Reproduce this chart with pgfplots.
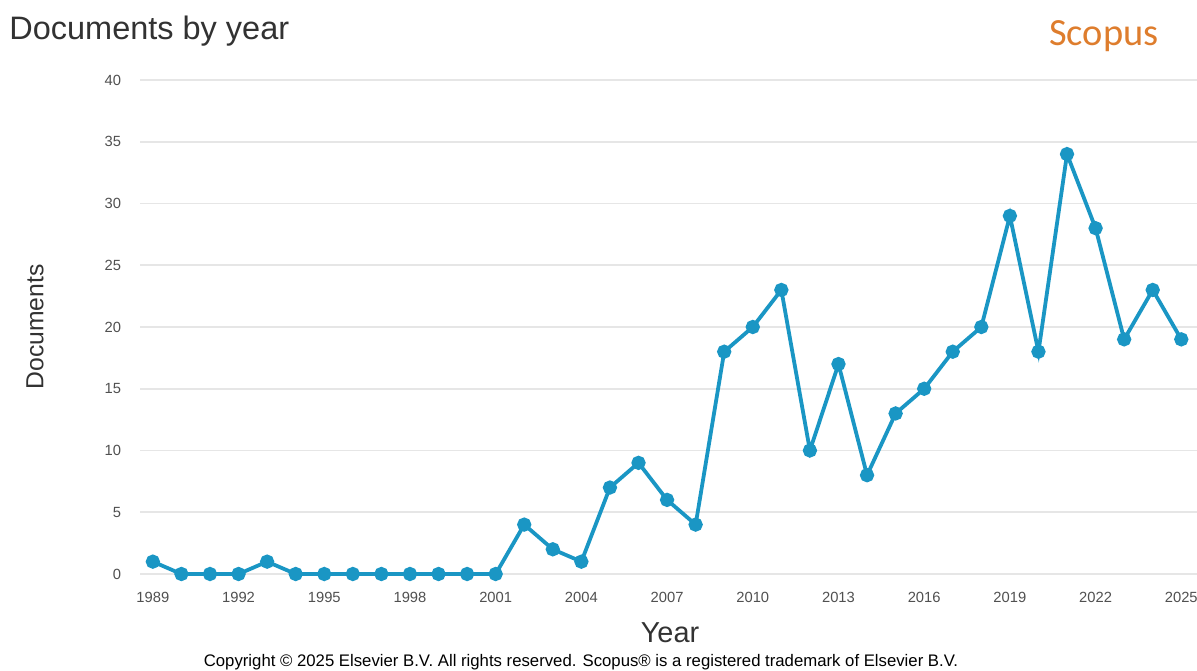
\documentclass[border=0pt]{standalone}
\usepackage{pgfplots}
\pgfplotsset{compat=1.18}
\usepackage{fontspec}
\setmainfont{Liberation Sans}
\newfontfamily\logofont{Carlito}
\definecolor{lineblue}{RGB}{26,150,196}
\definecolor{gridgray}{RGB}{230,230,230}
\definecolor{ticktext}{RGB}{80,80,80}
\definecolor{titletext}{RGB}{50,50,50}
\definecolor{scopusorange}{RGB}{222,125,45}
\begin{document}
\begin{tikzpicture}
\path[use as bounding box] (0,0) rectangle (598.5bp,335.5bp);
\begin{axis}[
  at={(70bp,48.5bp)}, anchor=south west,
  scale only axis, width=528.5bp, height=247bp,
  xmin=1988.55, xmax=2025.55, ymin=0, ymax=40,
  axis line style={draw=none},
  ymajorgrids, grid style={gridgray, line width=0.8bp},
  xtick={1989,1992,...,2025}, ytick={0,5,...,40},
  major tick length=0pt,
  /pgf/number format/assume math mode=true,
  xticklabel={\pgfmathprintnumber[1000 sep={}]{\tick}},
  xticklabel style={font=\fontsize{7.4}{8}\selectfont, text=ticktext, yshift=-5.5bp},
  yticklabel style={font=\fontsize{7.4}{8}\selectfont, text=ticktext, xshift=-6bp},
  clip=false,
]
\addplot[lineblue, line width=1.9bp, mark=*, mark size=2.6bp, mark options={fill=lineblue, draw=lineblue}] coordinates {
(1989,1) (1990,0) (1991,0) (1992,0) (1993,1) (1994,0) (1995,0) (1996,0) (1997,0) (1998,0) (1999,0) (2000,0) (2001,0)
(2002,4) (2003,2) (2004,1) (2005,7) (2006,9) (2007,6) (2008,4) (2009,18) (2010,20) (2011,23) (2012,10) (2013,17)
(2014,8) (2015,13) (2016,15) (2017,18) (2018,20) (2019,29) (2020,18) (2021,34) (2022,28) (2023,19) (2024,23) (2025,19)
};
\end{axis}
\node[anchor=west, text=titletext, font=\fontsize{16.3}{18}\selectfont, inner sep=0pt] at (4.5bp,320bp) {Documents by year};
\node[text=scopusorange, font=\logofont\fontsize{19.3}{21}\selectfont, inner sep=0pt] at (552bp,317.5bp) {Scopus};
\node[rotate=90, text=titletext, font=\fontsize{12.4}{14}\selectfont, inner sep=0pt] at (17.5bp,172bp) {Documents};
\node[text=titletext, font=\fontsize{14.5}{16}\selectfont, inner sep=0pt] at (335bp,19bp) {Year};
\node[text=black, font=\fontsize{8.4}{10}\selectfont, inner sep=0pt] at (290.5bp,4.5bp) {Copyright © 2025 Elsevier B.V. All rights reserved. Scopus® is a registered trademark of Elsevier B.V.};
\end{tikzpicture}
\end{document}
